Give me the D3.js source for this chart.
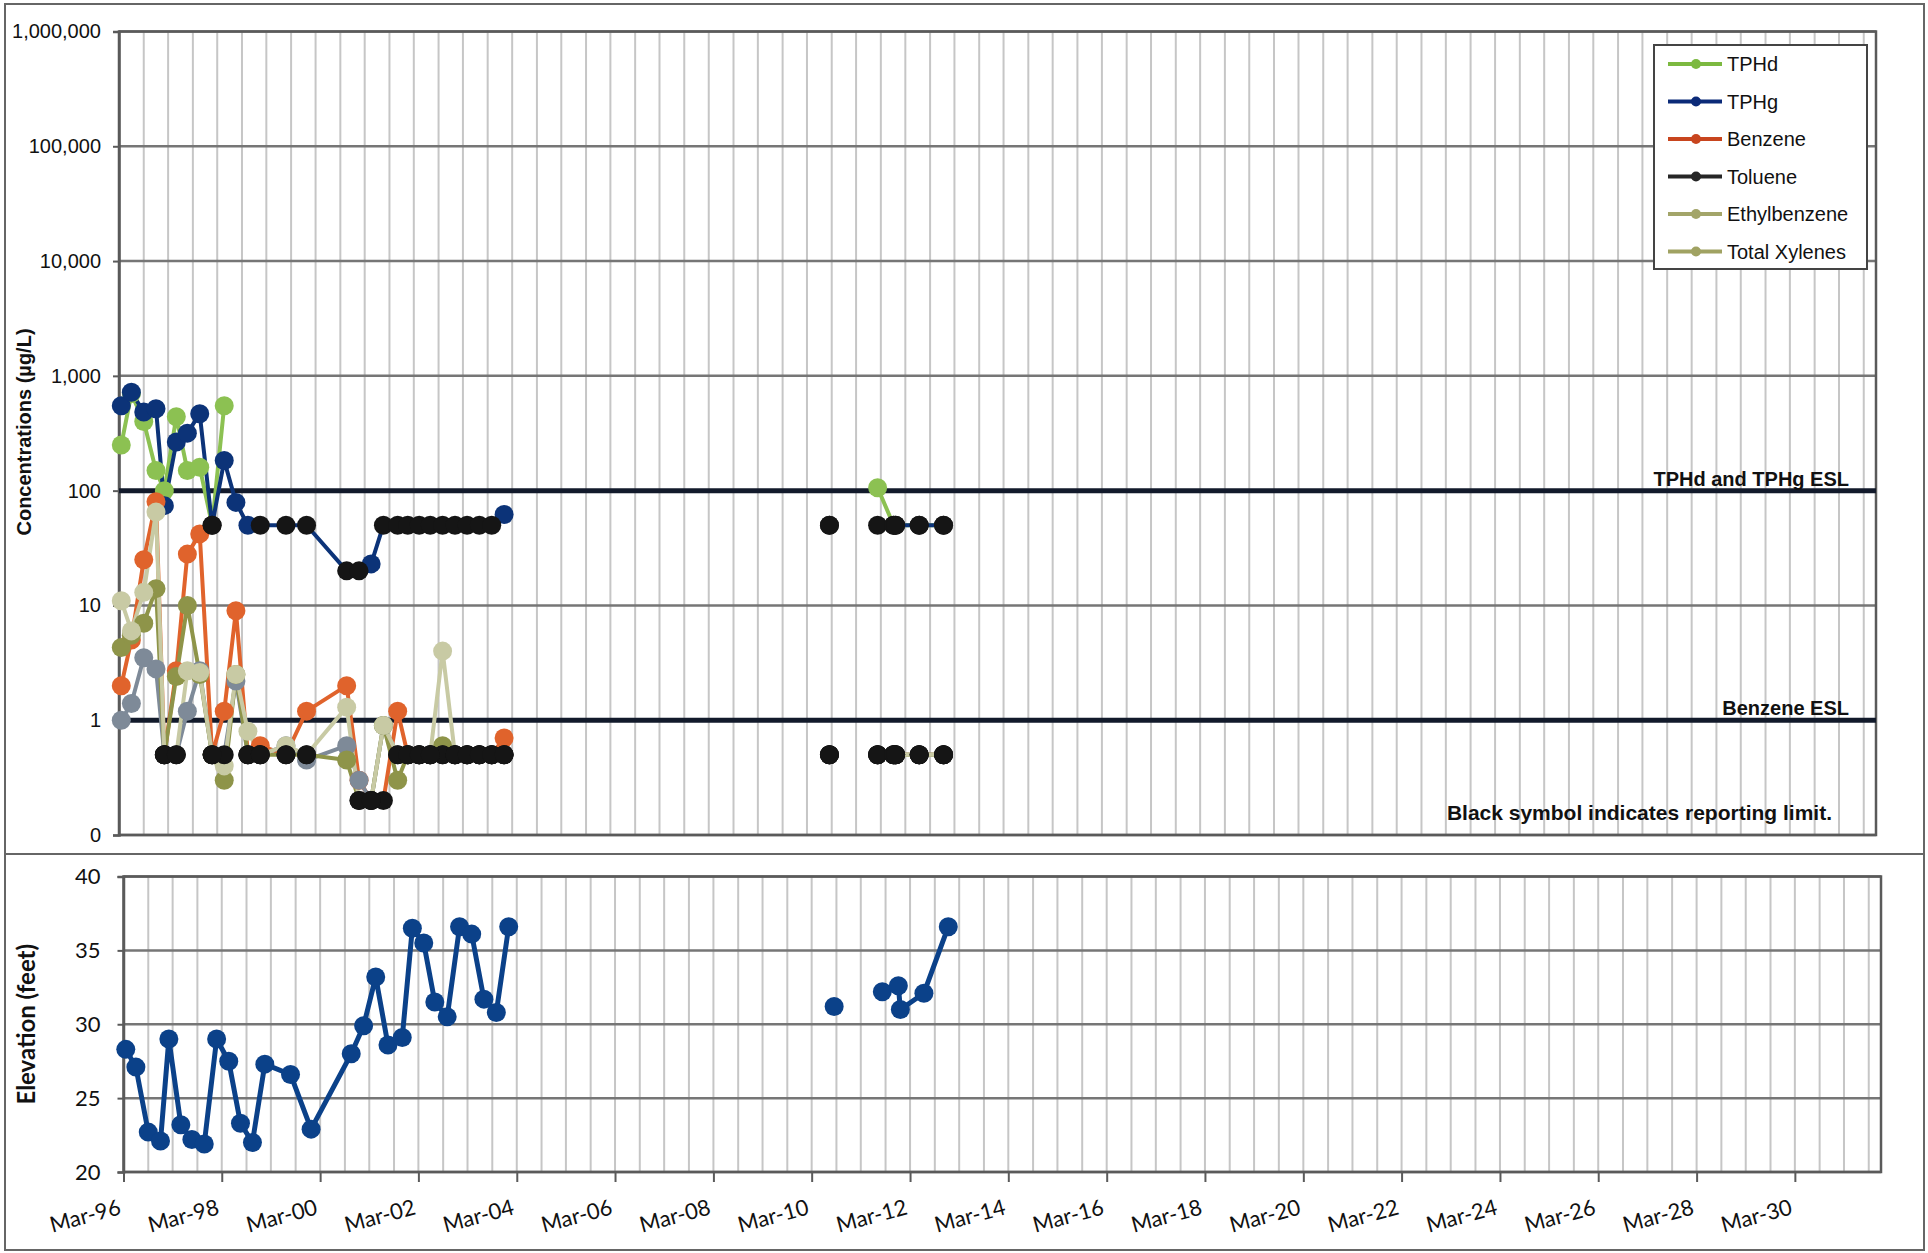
<!DOCTYPE html>
<html>
<head>
<meta charset="utf-8">
<script src="https://cdn.jsdelivr.net/npm/d3@7"></script>
<style>
  body { margin: 0; background: #fff; }
  svg { display: block; }
</style>
</head>
<body>
<svg id="chart" width="1928" height="1253"></svg>
<script>
// sampling events (shared by both panels); null rows break the lines
const sampleDates = [
  '1996-03-18', '1996-06-01', '1996-09-01', '1996-12-01', '1997-02-01',
  '1997-05-01', '1997-07-22', '1997-10-22', '1998-01-22', '1998-04-22',
  '1998-07-18', '1998-10-15', '1999-01-15', '1999-07-25', '1999-12-25',
  '2000-10-18', '2001-01-18', '2001-04-18', '2001-07-18', '2001-11-01',
  '2002-01-15', '2002-04-10', '2002-07-01', '2002-10-01', '2003-01-01',
  '2003-04-01', '2003-07-01', '2003-10-01', '2004-01-01', '2007-01-01',
  '2010-08-15', '2011-02-01', '2011-08-08', '2011-12-05', '2011-12-20',
  '2012-06-12', '2012-12-10'
]

// concentrations in ug/L, '<x' = not detected at reporting limit x
const tphd = [
  250, 700, 400, 150, 100, 440, 150, 160, '<50', 550,
  null, null, null, null, null, null, null, null, null, null,
  null, null, null, null, null, null, null, null, null, null,
  '<50', null, 106, '<50', '<50', '<50', '<50'
]
const tphg = [
  550, 720, 485, 517, 74, 265, 317, 468, '<50', 183,
  79, 50, '<50', '<50', '<50', '<20', '<20', 23, '<50', '<50',
  '<50', '<50', '<50', '<50', '<50', '<50', '<50', '<50', 62, null,
  '<50', null, '<50', '<50', '<50', '<50', '<50'
]
const benzene = [
  2.0, 5, 25, 80, '<0.5', 2.7, 28, 42, '<0.5', 1.2,
  9, '<0.5', 0.6, '<0.5', 1.2, 2.0, 0.3, '<0.2', '<0.2', 1.2,
  '<0.5', '<0.5', '<0.5', '<0.5', '<0.5', '<0.5', '<0.5', '<0.5', 0.7, null,
  '<0.5', null, '<0.5', '<0.5', '<0.5', '<0.5', '<0.5'
]
const toluene = [
  1.0, 1.4, 3.5, 2.8, '<0.5', '<0.5', 1.2, 2.7, '<0.5', '<0.5',
  2.2, '<0.5', '<0.5', 0.6, 0.45, 0.6, 0.3, '<0.2', 0.9, '<0.5',
  '<0.5', '<0.5', '<0.5', '<0.5', '<0.5', '<0.5', '<0.5', '<0.5', '<0.5', null,
  '<0.5', null, '<0.5', '<0.5', '<0.5', '<0.5', '<0.5'
]
const ethylbenzene = [
  4.3, 5.5, 7, 14, '<0.5', 2.4, 10, 2.5, 0.5, 0.3,
  2.5, '<0.5', '<0.5', '<0.5', '<0.5', 0.45, '<0.2', '<0.2', 0.9, 0.3,
  '<0.5', '<0.5', '<0.5', 0.6, '<0.5', '<0.5', '<0.5', '<0.5', '<0.5', null,
  '<0.5', null, '<0.5', '<0.5', '<0.5', '<0.5', '<0.5'
]
const totalXylenes = [
  11, 6, 13, 65, '<0.5', '<0.5', 2.7, 2.6, '<0.5', 0.4,
  2.5, 0.8, '<0.5', 0.6, '<0.5', 1.3, '<0.2', '<0.2', 0.9, '<0.5',
  '<0.5', '<0.5', '<0.5', 4.0, '<0.5', '<0.5', '<0.5', '<0.5', '<0.5', null,
  '<0.5', null, '<0.5', '<0.5', '<0.5', '<0.5', '<0.5'
]

// groundwater elevation in feet
const elevation = [
  28.3, 27.1, 22.7, 22.1, 29.0, 23.2, 22.2, 21.9, 29.0, 27.5,
  23.3, 22.0, 27.3, 26.6, 22.9, 28.0, 29.9, 33.2, 28.6, 29.1,
  36.5, 35.5, 31.5, 30.5, 36.6, 36.1, 31.7, 30.8, 36.6, null,
  31.2, null, 32.2, 32.6, 31.0, 32.1, 36.6
]

const seriesNames = ['TPHd', 'TPHg', 'Benzene', 'Toluene', 'Ethylbenzene', 'Total Xylenes']
const seriesValues = [tphd, tphg, benzene, toluene, ethylbenzene, totalXylenes]

const concTicks = [1000000, 100000, 10000, 1000, 100, 10, 1, 0.1]
const elevTicks = [20, 25, 30, 35, 40]
const timeTickLabels = ['Mar-96', 'Mar-98', 'Mar-00', 'Mar-02', 'Mar-04', 'Mar-06', 'Mar-08', 'Mar-10', 'Mar-12',
  'Mar-14', 'Mar-16', 'Mar-18', 'Mar-20', 'Mar-22', 'Mar-24', 'Mar-26', 'Mar-28', 'Mar-30']

const eslValues = [100, 1]
const eslLabels = ['TPHd and TPHg ESL', 'Benzene ESL']
const noteText = 'Black symbol indicates reporting limit.'

// ---- layout & style ----
const plotColors = ['#8cc152', '#0c3378', '#e0632c', '#7e8a98', '#8e9449', '#c8caa4']
const legendColors = ['#7cb940', '#0b2a78', '#c8451e', '#262626', '#a3a569', '#a0a262']
const ndColor = '#151515'
const elevColor = '#0b4189'
const markerR = 9.5
const topPlot = { left: 119, right: 1876, top: 31.5, bottom: 835 }
const bottomPlot = { left: 123.5, right: 1881, top: 876.5, bottom: 1172 }
const xStart = new Date(1996, 2, 1)
const xEnd = new Date(2031, 11, 1)
const arial = "'Liberation Sans', Arial, sans-serif"
const calibri = "Lato, 'Open Sans', sans-serif"

const parseDate = d3.timeParse('%Y-%m-%d')
const dates = sampleDates.map(parseDate)
const tickDates = timeTickLabels.map(d3.timeParse('%b-%y'))
const gridDates = d3.timeMonth.range(xStart, xEnd, 6).slice(1)

/**
 * Turns a raw lab value into {value, nd}
 *
 * @param {number|string|null} v The raw value
 * @returns {object|null} The parsed value
 */
function parseValue (v) {
  if (v === null) return null
  if (typeof v === 'string') return { value: +v.slice(1), nd: true }
  return { value: v, nd: false }
}

const svg = d3.select('#chart')
svg.append('rect').attr('width', 1928).attr('height', 1253).attr('fill', '#fff')

/**
 * Draws the vertical and horizontal grid and the plot frame
 *
 * @param {*} g The group to draw in
 * @param {*} x The x scale
 * @param {*} y The y scale
 * @param {number[]} yValues Values for horizontal gridlines
 * @param {object} plot The plot box
 */
function drawGrid (g, x, y, yValues, plot) {
  g.append('g')
    .selectAll('line')
    .data(gridDates)
    .join('line')
    .attr('x1', (d) => x(d))
    .attr('x2', (d) => x(d))
    .attr('y1', plot.top)
    .attr('y2', plot.bottom)
    .attr('stroke', '#c6c6c6')
    .attr('stroke-width', 2)

  g.append('g')
    .selectAll('line')
    .data(yValues)
    .join('line')
    .attr('x1', plot.left)
    .attr('x2', plot.right)
    .attr('y1', (d) => y(d))
    .attr('y2', (d) => y(d))
    .attr('stroke', '#767676')
    .attr('stroke-width', 2.5)

  g.append('rect')
    .attr('x', plot.left)
    .attr('y', plot.top)
    .attr('width', plot.right - plot.left)
    .attr('height', plot.bottom - plot.top)
    .attr('fill', 'none')
    .attr('stroke', '#5a5a5a')
    .attr('stroke-width', 2.5)
}

// ---- outer frames ----
svg.append('rect')
  .attr('x', 5).attr('y', 4).attr('width', 1919).attr('height', 1246)
  .attr('fill', 'none').attr('stroke', '#666').attr('stroke-width', 2)
svg.append('line')
  .attr('x1', 5).attr('x2', 1924).attr('y1', 854).attr('y2', 854)
  .attr('stroke', '#666').attr('stroke-width', 2)

// ---- concentration panel ----
const xTop = d3.scaleTime().domain([xStart, xEnd]).range([topPlot.left, topPlot.right])
const yTop = d3.scaleLog().domain([0.1, 1000000]).range([topPlot.bottom, topPlot.top])
const topG = svg.append('g').attr('id', 'conc-g')

drawGrid(topG, xTop, yTop, concTicks, topPlot)

topG.append('g')
  .attr('transform', `translate(${topPlot.left},0)`)
  .call(d3.axisLeft(yTop).tickValues(concTicks).tickFormat(d3.format(',.0f')).tickSize(6).tickPadding(12))
  .call((a) => a.select('.domain').attr('stroke', '#5a5a5a').attr('stroke-width', 2.5))
  .call((a) => a.selectAll('.tick line').attr('stroke', '#5a5a5a').attr('stroke-width', 2))
  .selectAll('text')
  .attr('fill', '#111')
  .style('font-family', arial)
  .style('font-size', '20px')

topG.append('text')
  .attr('transform', 'translate(31,432) rotate(-90)')
  .attr('text-anchor', 'middle')
  .attr('fill', '#111')
  .style('font-family', arial)
  .style('font-size', '20px')
  .style('font-weight', 'bold')
  .text('Concentrations (µg/L)')

// ESL lines
eslValues.forEach((v, i) => {
  topG.append('line')
    .attr('x1', topPlot.left)
    .attr('x2', topPlot.right)
    .attr('y1', yTop(v))
    .attr('y2', yTop(v))
    .attr('stroke', '#121a2b')
    .attr('stroke-width', 5)
  topG.append('text')
    .attr('x', topPlot.right - 27)
    .attr('y', yTop(v) - 5)
    .attr('text-anchor', 'end')
    .attr('fill', '#111')
    .style('font-family', arial)
    .style('font-size', '20px')
    .style('font-weight', 'bold')
    .text(eslLabels[i])
})

topG.append('text')
  .attr('x', topPlot.right - 44)
  .attr('y', topPlot.bottom - 15)
  .attr('text-anchor', 'end')
  .attr('fill', '#111')
  .style('font-family', arial)
  .style('font-size', '21px')
  .style('font-weight', 'bold')
  .text(noteText)

const series = seriesValues.map((vals, i) => ({
  name: seriesNames[i],
  color: plotColors[i],
  points: vals.map((v, j) => ({ date: dates[j], v: parseValue(v) }))
}))

const concLine = d3.line()
  .defined((d) => d.v !== null)
  .x((d) => xTop(d.date))
  .y((d) => yTop(d.v.value))

topG.append('g')
  .selectAll('path')
  .data(series)
  .join('path')
  .attr('d', (d) => concLine(d.points))
  .attr('fill', 'none')
  .attr('stroke', (d) => d.color)
  .attr('stroke-width', 4)
  .attr('stroke-linejoin', 'round')

const allPoints = series.flatMap((s) => s.points
  .filter((p) => p.v !== null)
  .map((p) => ({ date: p.date, value: p.v.value, nd: p.v.nd, color: s.color })))

// detected values first, reporting limits (black) on top
topG.append('g')
  .selectAll('circle')
  .data(allPoints.filter((p) => !p.nd).concat(allPoints.filter((p) => p.nd)))
  .join('circle')
  .attr('cx', (d) => xTop(d.date))
  .attr('cy', (d) => yTop(d.value))
  .attr('r', markerR)
  .attr('fill', (d) => d.nd ? ndColor : d.color)

// legend
const legend = topG.append('g').attr('transform', 'translate(1654,45)')
legend.append('rect')
  .attr('width', 213)
  .attr('height', 224)
  .attr('fill', '#fff')
  .attr('stroke', '#444')
  .attr('stroke-width', 2)
const legendItem = legend.selectAll('.item')
  .data(seriesNames)
  .join('g')
  .attr('class', 'item')
  .attr('transform', (d, i) => `translate(0,${19 + i * 37.5})`)
legendItem.append('line')
  .attr('x1', 14).attr('x2', 68)
  .attr('stroke', (d, i) => legendColors[i])
  .attr('stroke-width', 4)
legendItem.append('circle')
  .attr('cx', 42)
  .attr('r', 5)
  .attr('fill', (d, i) => legendColors[i])
legendItem.append('text')
  .attr('x', 73)
  .attr('dy', '0.35em')
  .attr('fill', '#111')
  .style('font-family', arial)
  .style('font-size', '20px')
  .text((d) => d)

// ---- elevation panel ----
const xBottom = d3.scaleTime().domain([xStart, xEnd]).range([bottomPlot.left, bottomPlot.right])
const yBottom = d3.scaleLinear().domain([20, 40]).range([bottomPlot.bottom, bottomPlot.top])
const botG = svg.append('g').attr('id', 'elev-g')

drawGrid(botG, xBottom, yBottom, elevTicks, bottomPlot)

botG.append('g')
  .attr('transform', `translate(${bottomPlot.left},0)`)
  .call(d3.axisLeft(yBottom).tickValues(elevTicks).tickSize(6).tickPadding(17))
  .call((a) => a.select('.domain').attr('stroke', '#5a5a5a').attr('stroke-width', 2.5))
  .call((a) => a.selectAll('.tick line').attr('stroke', '#5a5a5a').attr('stroke-width', 2))
  .selectAll('text')
  .attr('fill', '#111')
  .style('font-family', calibri)
  .style('font-size', '22px')

botG.append('g')
  .attr('transform', `translate(0,${bottomPlot.bottom})`)
  .call(d3.axisBottom(xBottom).tickValues(tickDates).tickFormat((d, i) => timeTickLabels[i]).tickSize(10))
  .call((a) => a.select('.domain').remove())
  .call((a) => a.selectAll('.tick line').attr('stroke', '#5a5a5a').attr('stroke-width', 2))
  .selectAll('text')
  .attr('x', 0)
  .attr('y', 0)
  .attr('dy', 0)
  .attr('text-anchor', 'end')
  .attr('transform', 'translate(-2,42) rotate(-15)')
  .attr('fill', '#111')
  .style('font-family', calibri)
  .style('font-size', '22px')

botG.append('text')
  .attr('transform', `translate(35,${(bottomPlot.top + bottomPlot.bottom) / 2}) rotate(-90)`)
  .attr('text-anchor', 'middle')
  .attr('fill', '#111')
  .style('font-family', calibri)
  .style('font-size', '24px')
  .style('font-weight', 'bold')
  .text('Elevation (feet)')

const elevPoints = elevation.map((v, i) => ({ date: dates[i], value: v }))
botG.append('path')
  .datum(elevPoints)
  .attr('d', d3.line()
    .defined((d) => d.value !== null)
    .x((d) => xBottom(d.date))
    .y((d) => yBottom(d.value)))
  .attr('fill', 'none')
  .attr('stroke', elevColor)
  .attr('stroke-width', 5)
  .attr('stroke-linejoin', 'round')

botG.append('g')
  .selectAll('circle')
  .data(elevPoints.filter((d) => d.value !== null))
  .join('circle')
  .attr('cx', (d) => xBottom(d.date))
  .attr('cy', (d) => yBottom(d.value))
  .attr('r', markerR)
  .attr('fill', elevColor)
</script>
</body>
</html>
